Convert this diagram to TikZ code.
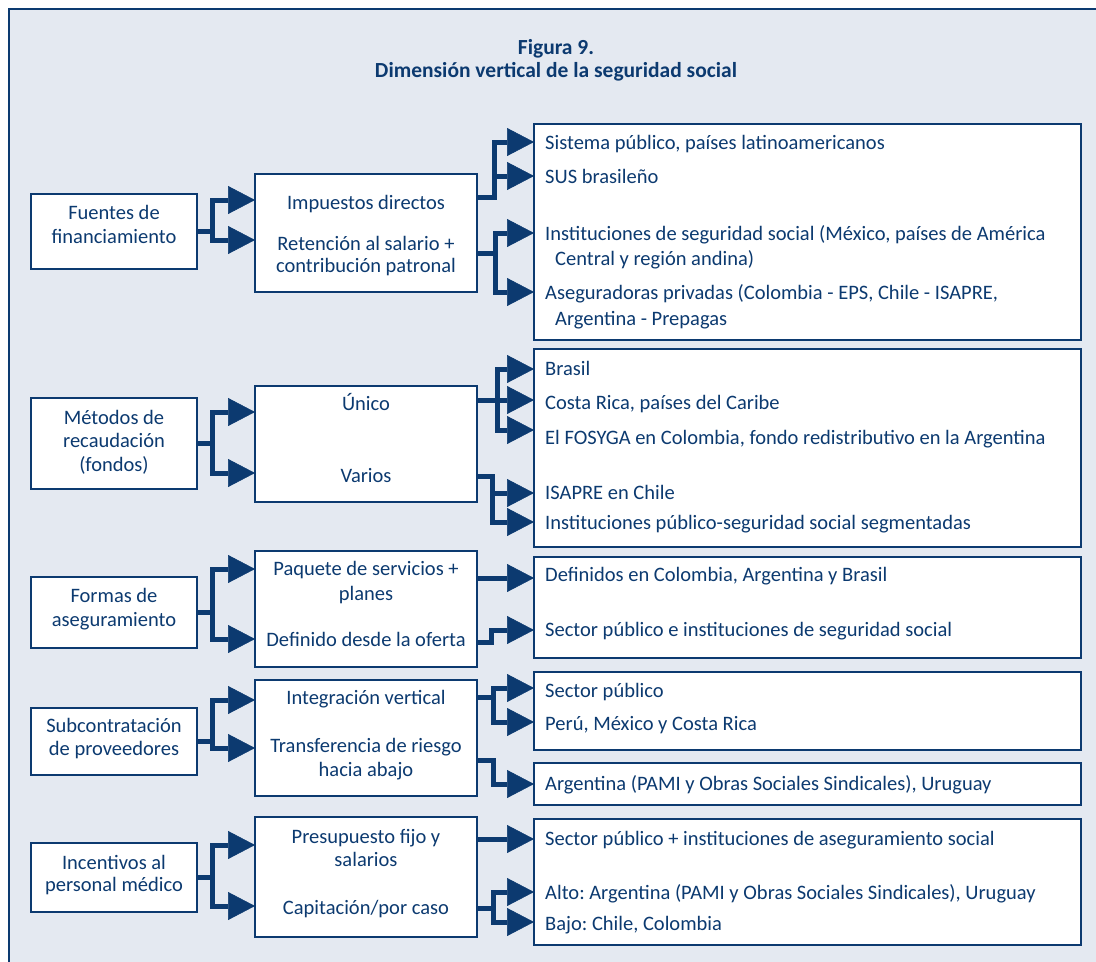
\documentclass[tikz,border=0pt]{standalone}
\usepackage{fontspec}
\setmainfont{Carlito}
\usetikzlibrary{arrows.meta,calc}
\definecolor{navy}{RGB}{12,58,112}
\definecolor{bgc}{RGB}{228,233,241}
\frenchspacing
\begin{document}
\begin{tikzpicture}[x=1pt,y=-1pt,
  box/.style={draw=navy, line width=2.4pt, fill=white, inner sep=0pt, outer sep=0pt, anchor=north west},
  txt/.style={text=navy, font=\fontsize{20.5}{24}\selectfont, inner sep=0pt, yshift=-1pt},
  ttl/.style={text=navy, font=\fontsize{21.5}{25}\selectfont\bfseries, inner sep=0pt, anchor=base},
  ctr/.style={txt, anchor=base},
  lft/.style={txt, anchor=base west},
  arr/.style={draw=navy, line width=5pt, line join=miter,
    -{Triangle[length=27pt, width=28pt, line width=0.5pt]}}]
\useasboundingbox (0,0) rectangle (1096,962);
\fill[white] (0,0) rectangle (1096,962);
\fill[bgc] (9,9) rectangle (1096,962);
\draw[navy, line width=2.4pt] (9,962) -- (9,9) -- (1096,9);
% title
\node[ttl] (t1) at (556,54) {Figura 9.};
\node[ttl] (t2) at (556,77) {Dimensión vertical de la seguridad social};
% boxes
\node[box, minimum width=166pt, minimum height=75pt] (L1) at (31,194) {};
\node[box, minimum width=222pt, minimum height=118pt] (M1) at (255,174) {};
\node[box, minimum width=547pt, minimum height=216pt] (R1) at (534,124) {};
\node[box, minimum width=166pt, minimum height=91pt] (L2) at (31,398) {};
\node[box, minimum width=222pt, minimum height=116pt] (M2) at (255,386) {};
\node[box, minimum width=547pt, minimum height=198pt] (R2) at (534,349) {};
\node[box, minimum width=166pt, minimum height=71pt] (L3) at (31,577) {};
\node[box, minimum width=222pt, minimum height=116pt] (M3) at (255,551) {};
\node[box, minimum width=547pt, minimum height=101pt] (R3) at (534,557) {};
\node[box, minimum width=166pt, minimum height=67pt] (L4) at (31,708) {};
\node[box, minimum width=222pt, minimum height=116pt] (M4) at (255,680) {};
\node[box, minimum width=547pt, minimum height=78pt] (R4) at (534,672) {};
\node[box, minimum width=547pt, minimum height=42pt] (R4b) at (534,763) {};
\node[box, minimum width=166pt, minimum height=69pt] (L5) at (31,843) {};
\node[box, minimum width=222pt, minimum height=120pt] (M5) at (255,817) {};
\node[box, minimum width=547pt, minimum height=126pt] (R5) at (534,819) {};
% texts, group 1
\node[ctr] (l1a) at (114,218) {Fuentes de};
\node[ctr] (l1b) at (114,242) {financiamiento};
\node[ctr] (m1a) at (366,208) {Impuestos directos};
\node[ctr] (m1b) at (366,249) {Retención al salario +};
\node[ctr] (m1c) at (366,271) {contribución patronal};
\node[lft] (r1a) at (545,148) {Sistema público, países latinoamericanos};
\node[lft] (r1b) at (545,182) {SUS brasileño};
\node[lft] (r1c) at (545,239) {Instituciones de seguridad social (México, países de América};
\node[lft] (r1d) at (555,264) {Central y región andina)};
\node[lft] (r1e) at (545,298) {Aseguradoras privadas (Colombia - EPS, Chile - ISAPRE,};
\node[lft] (r1f) at (555,324) {Argentina - Prepagas};
% group 2
\node[ctr] (l2a) at (114,423) {Métodos de};
\node[ctr] (l2b) at (114,446) {recaudación};
\node[ctr] (l2c) at (114,470) {(fondos)};
\node[ctr] (m2a) at (366,409) {Único};
\node[ctr] (m2b) at (366,481) {Varios};
\node[lft] (r2a) at (545,374) {Brasil};
\node[lft] (r2b) at (545,408) {Costa Rica, países del Caribe};
\node[lft] (r2c) at (545,443) {El FOSYGA en Colombia, fondo redistributivo en la Argentina};
\node[lft] (r2d) at (545,498) {ISAPRE en Chile};
\node[lft] (r2e) at (545,528) {Instituciones público-seguridad social segmentadas};
% group 3
\node[ctr] (l3a) at (114,601) {Formas de};
\node[ctr] (l3b) at (114,625) {aseguramiento};
\node[ctr] (m3a) at (366,574) {Paquete de servicios +};
\node[ctr] (m3b) at (366,599) {planes};
\node[ctr] (m3c) at (366,645) {Definido desde la oferta};
\node[lft] (r3a) at (545,580) {Definidos en Colombia, Argentina y Brasil};
\node[lft] (r3b) at (545,635) {Sector público e instituciones de seguridad social};
% group 4
\node[ctr] (l4a) at (114,731) {Subcontratación};
\node[ctr] (l4b) at (114,754) {de proveedores};
\node[ctr] (m4a) at (366,703) {Integración vertical};
\node[ctr] (m4b) at (366,751) {Transferencia de riesgo};
\node[ctr] (m4c) at (366,775) {hacia abajo};
\node[lft] (r4a) at (545,696) {Sector público};
\node[lft] (r4b) at (545,729) {Perú, México y Costa Rica};
\node[lft] (r4c) at (545,789) {Argentina (PAMI y Obras Sociales Sindicales), Uruguay};
% group 5
\node[ctr] (l5a) at (114,868) {Incentivos al};
\node[ctr] (l5b) at (114,890) {personal médico};
\node[ctr] (m5a) at (366,842) {Presupuesto fijo y};
\node[ctr] (m5b) at (366,865) {salarios};
\node[ctr] (m5c) at (366,913) {Capitación/por caso};
\node[lft] (r5a) at (545,844) {Sector público + instituciones de aseguramiento social};
\node[lft] (r5b) at (545,898) {Alto: Argentina (PAMI y Obras Sociales Sindicales), Uruguay};
\node[lft] (r5c) at (545,929) {Bajo: Chile, Colombia};
% junction coordinates (left)
\coordinate (k1) at ($(L1.east)+(15,0)$);
\coordinate (k2) at ($(L2.east)+(15,0)$);
\coordinate (k3) at ($(L3.east)+(15,0)$);
\coordinate (k4) at ($(L4.east)+(15,0)$);
\coordinate (k5) at ($(L5.east)+(15,0)$);
\coordinate (u1a) at (0,200); \coordinate (u1b) at (0,240);
\coordinate (u2a) at (0,412); \coordinate (u2b) at (0,473);
\coordinate (u3a) at (0,569); \coordinate (u3b) at (0,639);
\coordinate (u4a) at (0,700); \coordinate (u4b) at (0,748);
\coordinate (u5a) at (0,845); \coordinate (u5b) at (0,906);
\draw[arr] (L1.east) -- (k1) |- (M1.west |- u1a);
\draw[arr] (L1.east) -- (k1) |- (M1.west |- u1b);
\draw[arr] (L2.east) -- (k2) |- (M2.west |- u2a);
\draw[arr] (L2.east) -- (k2) |- (M2.west |- u2b);
\draw[arr] (L3.east) -- (k3) |- (M3.west |- u3a);
\draw[arr] (L3.east) -- (k3) |- (M3.west |- u3b);
\draw[arr] (L4.east) -- (k4) |- (M4.west |- u4a);
\draw[arr] (L4.east) -- (k4) |- (M4.west |- u4b);
\draw[arr] (L5.east) -- (k5) |- (M5.west |- u5a);
\draw[arr] (L5.east) -- (k5) |- (M5.west |- u5b);
% junction coordinates (right)
\coordinate (j1a) at (494,197);
\coordinate (j1b) at (495,253);
\coordinate (j2a) at (497,400);
\coordinate (j2b) at (492,476);
\coordinate (j3a) at (494,578);
\coordinate (j3b) at (491,642);
\coordinate (j4a) at (493,697);
\coordinate (j4b) at (493,760);
\coordinate (j5a) at (494,839);
\coordinate (j5b) at (493,908);
\coordinate (v1a) at (0,142); \coordinate (v1b) at (0,176);
\coordinate (v1c) at (0,233); \coordinate (v1d) at (0,292);
\coordinate (v2a) at (0,369); \coordinate (v2b) at (0,400); \coordinate (v2c) at (0,430);
\coordinate (v2d) at (0,493); \coordinate (v2e) at (0,522);
\coordinate (v3a) at (0,578); \coordinate (v3b) at (0,630);
\coordinate (v4a) at (0,688); \coordinate (v4b) at (0,722); \coordinate (v4c) at (0,784);
\coordinate (v5a) at (0,839); \coordinate (v5b) at (0,892); \coordinate (v5c) at (0,922);
\draw[arr] (M1.east |- j1a) -- (j1a) |- (R1.west |- v1a);
\draw[arr] (M1.east |- j1a) -- (j1a) |- (R1.west |- v1b);
\draw[arr] (M1.east |- j1b) -- (j1b) |- (R1.west |- v1c);
\draw[arr] (M1.east |- j1b) -- (j1b) |- (R1.west |- v1d);
\draw[arr] (M2.east |- j2a) -- (j2a) |- (R2.west |- v2a);
\draw[arr] (M2.east |- j2a) -- (j2a) |- (R2.west |- v2b);
\draw[arr] (M2.east |- j2a) -- (j2a) |- (R2.west |- v2c);
\draw[arr] (M2.east |- j2b) -- (j2b) |- (R2.west |- v2d);
\draw[arr] (M2.east |- j2b) -- (j2b) |- (R2.west |- v2e);
\draw[arr] (M3.east |- j3a) -- (R3.west |- v3a);
\draw[arr] (M3.east |- j3b) -- (j3b) |- (R3.west |- v3b);
\draw[arr] (M4.east |- j4a) -- (j4a) |- (R4.west |- v4a);
\draw[arr] (M4.east |- j4a) -- (j4a) |- (R4.west |- v4b);
\draw[arr] (M4.east |- j4b) -- (j4b) |- (R4b.west |- v4c);
\draw[arr] (M5.east |- j5a) -- (R5.west |- v5a);
\draw[arr] (M5.east |- j5b) -- (j5b) |- (R5.west |- v5b);
\draw[arr] (M5.east |- j5b) -- (j5b) |- (R5.west |- v5c);
\end{tikzpicture}
\end{document}
